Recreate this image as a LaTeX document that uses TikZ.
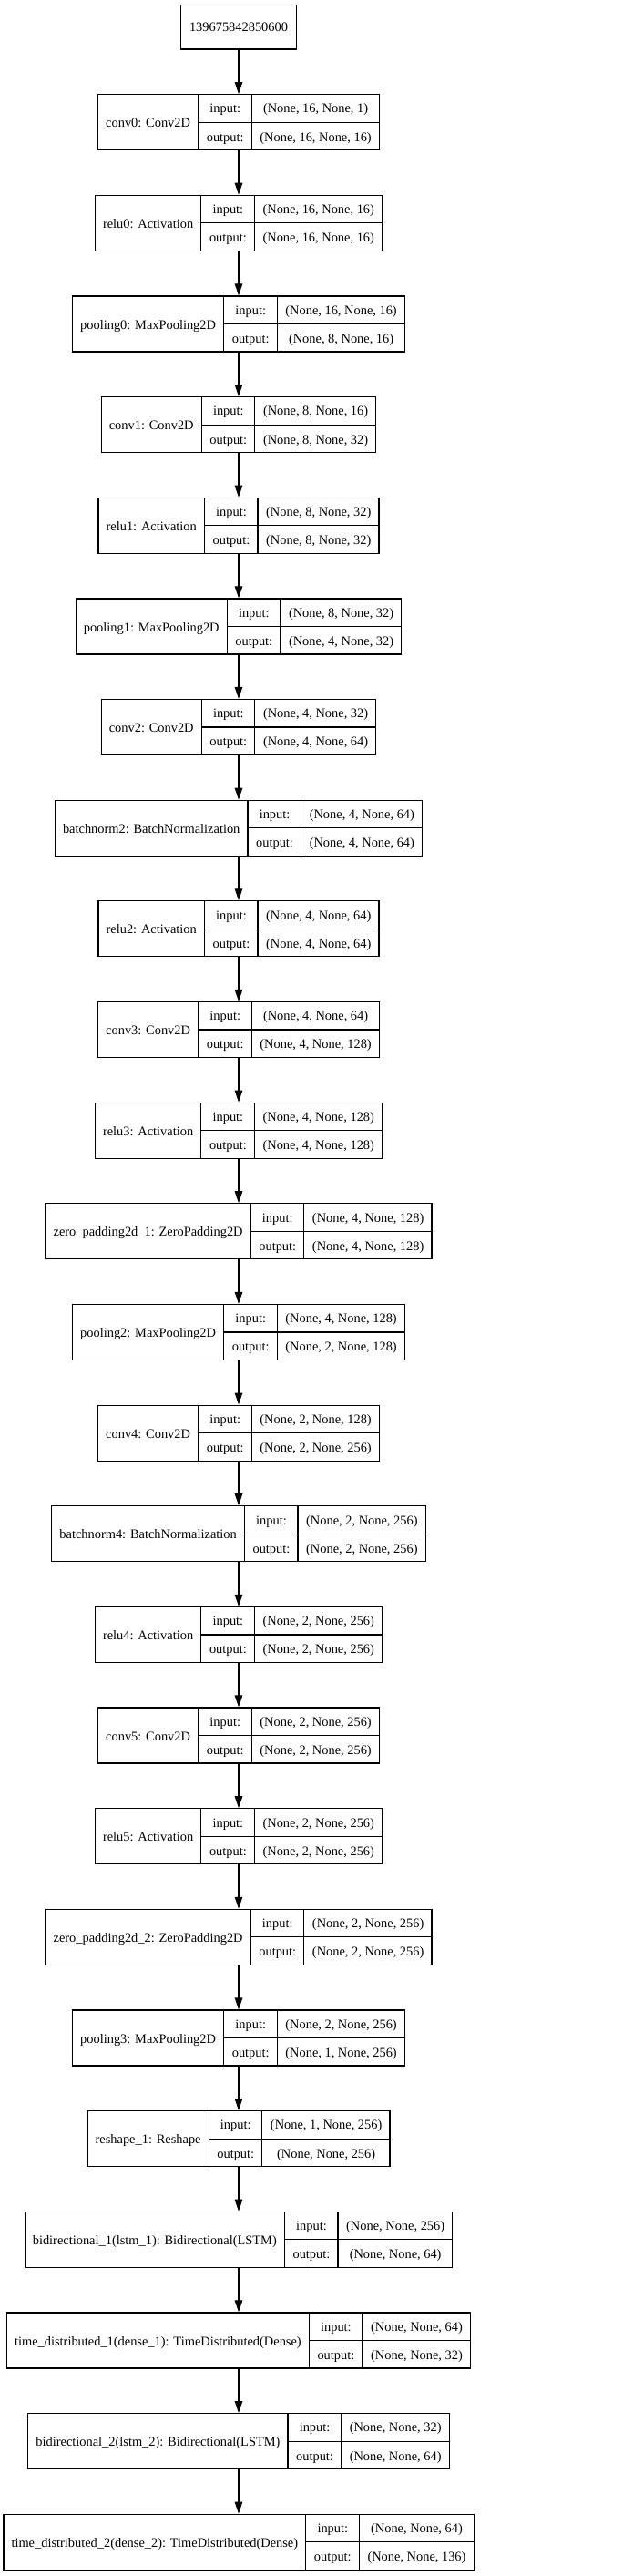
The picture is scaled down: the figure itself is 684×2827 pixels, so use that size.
\documentclass[tikz,border=0pt]{standalone}
\usepackage{fontspec}
\setmainfont{Liberation Serif}
\usepackage{tikz}
\usetikzlibrary{positioning, arrows.meta}

\newlength{\cpad}
\setlength{\cpad}{8.6pt}
\setlength{\arrayrulewidth}{1.2pt}
\renewcommand{\arraystretch}{0}
\newcommand{\rs}{\rule[-9.6pt]{0pt}{29.9pt}}
\newcommand{\layer}[3]{%
  \begin{tabular}{@{\hspace{\cpad}}c@{\hspace{\cpad}}|@{}c@{}|@{}c@{}}
    \raisebox{-2pt}{#1} &
    \begin{tabular}{@{\hspace{\cpad}}c@{\hspace{\cpad}}}\rs input:\\\hline\rs output:\end{tabular} &
    \begin{tabular}{@{\hspace{\cpad}}c@{\hspace{\cpad}}}\rs #2\\\hline\rs #3\end{tabular}
  \end{tabular}}

\begin{document}
\begin{tikzpicture}[node distance=48.45pt]

\tikzstyle{idbox} = [rectangle, draw=black, line width=1.2pt, minimum width=127pt, minimum height=48.3pt, inner sep=0pt, font=\fontsize{14.4}{17}\selectfont]
\tikzstyle{layerbox} = [rectangle, draw=black, line width=1.2pt, inner sep=0pt, font=\fontsize{14.4}{17}\selectfont]
\tikzstyle{arrow} = [line width=1.2pt, -{Triangle[length=13pt, width=8.5pt]}]

\useasboundingbox (0,0) rectangle (684pt,-2827pt);

\node (input) [idbox] at (262pt,-29.85pt) {139675842850600};
\node (conv0) [layerbox, below=of input] {\layer{conv0: Conv2D}{(None, 16, None, 1)}{(None, 16, None, 16)}};
\node (relu0) [layerbox, below=of conv0] {\layer{relu0: Activation}{(None, 16, None, 16)}{(None, 16, None, 16)}};
\node (pooling0) [layerbox, below=of relu0] {\layer{pooling0: MaxPooling2D}{(None, 16, None, 16)}{(None, 8, None, 16)}};
\node (conv1) [layerbox, below=of pooling0] {\layer{conv1: Conv2D}{(None, 8, None, 16)}{(None, 8, None, 32)}};
\node (relu1) [layerbox, below=of conv1] {\layer{relu1: Activation}{(None, 8, None, 32)}{(None, 8, None, 32)}};
\node (pooling1) [layerbox, below=of relu1] {\layer{pooling1: MaxPooling2D}{(None, 8, None, 32)}{(None, 4, None, 32)}};
\node (conv2) [layerbox, below=of pooling1] {\layer{conv2: Conv2D}{(None, 4, None, 32)}{(None, 4, None, 64)}};
\node (batchnorm2) [layerbox, below=of conv2] {\layer{batchnorm2: BatchNormalization}{(None, 4, None, 64)}{(None, 4, None, 64)}};
\node (relu2) [layerbox, below=of batchnorm2] {\layer{relu2: Activation}{(None, 4, None, 64)}{(None, 4, None, 64)}};
\node (conv3) [layerbox, below=of relu2] {\layer{conv3: Conv2D}{(None, 4, None, 64)}{(None, 4, None, 128)}};
\node (relu3) [layerbox, below=of conv3] {\layer{relu3: Activation}{(None, 4, None, 128)}{(None, 4, None, 128)}};
\node (zeropad1) [layerbox, below=of relu3] {\layer{zero\_padding2d\_1: ZeroPadding2D}{(None, 4, None, 128)}{(None, 4, None, 128)}};
\node (pooling2) [layerbox, below=of zeropad1] {\layer{pooling2: MaxPooling2D}{(None, 4, None, 128)}{(None, 2, None, 128)}};
\node (conv4) [layerbox, below=of pooling2] {\layer{conv4: Conv2D}{(None, 2, None, 128)}{(None, 2, None, 256)}};
\node (batchnorm4) [layerbox, below=of conv4] {\layer{batchnorm4: BatchNormalization}{(None, 2, None, 256)}{(None, 2, None, 256)}};
\node (relu4) [layerbox, below=of batchnorm4] {\layer{relu4: Activation}{(None, 2, None, 256)}{(None, 2, None, 256)}};
\node (conv5) [layerbox, below=of relu4] {\layer{conv5: Conv2D}{(None, 2, None, 256)}{(None, 2, None, 256)}};
\node (relu5) [layerbox, below=of conv5] {\layer{relu5: Activation}{(None, 2, None, 256)}{(None, 2, None, 256)}};
\node (zeropad2) [layerbox, below=of relu5] {\layer{zero\_padding2d\_2: ZeroPadding2D}{(None, 2, None, 256)}{(None, 2, None, 256)}};
\node (pooling3) [layerbox, below=of zeropad2] {\layer{pooling3: MaxPooling2D}{(None, 2, None, 256)}{(None, 1, None, 256)}};
\node (reshape1) [layerbox, below=of pooling3] {\layer{reshape\_1: Reshape}{(None, 1, None, 256)}{(None, None, 256)}};
\node (bilstm1) [layerbox, below=of reshape1] {\layer{bidirectional\_1(lstm\_1): Bidirectional(LSTM)}{(None, None, 256)}{(None, None, 64)}};
\node (dense1) [layerbox, below=of bilstm1] {\layer{time\_distributed\_1(dense\_1): TimeDistributed(Dense)}{(None, None, 64)}{(None, None, 32)}};
\node (bilstm2) [layerbox, below=of dense1] {\layer{bidirectional\_2(lstm\_2): Bidirectional(LSTM)}{(None, None, 32)}{(None, None, 64)}};
\node (dense2) [layerbox, below=of bilstm2] {\layer{time\_distributed\_2(dense\_2): TimeDistributed(Dense)}{(None, None, 64)}{(None, None, 136)}};

\draw [arrow] (input) -- (conv0);
\draw [arrow] (conv0) -- (relu0);
\draw [arrow] (relu0) -- (pooling0);
\draw [arrow] (pooling0) -- (conv1);
\draw [arrow] (conv1) -- (relu1);
\draw [arrow] (relu1) -- (pooling1);
\draw [arrow] (pooling1) -- (conv2);
\draw [arrow] (conv2) -- (batchnorm2);
\draw [arrow] (batchnorm2) -- (relu2);
\draw [arrow] (relu2) -- (conv3);
\draw [arrow] (conv3) -- (relu3);
\draw [arrow] (relu3) -- (zeropad1);
\draw [arrow] (zeropad1) -- (pooling2);
\draw [arrow] (pooling2) -- (conv4);
\draw [arrow] (conv4) -- (batchnorm4);
\draw [arrow] (batchnorm4) -- (relu4);
\draw [arrow] (relu4) -- (conv5);
\draw [arrow] (conv5) -- (relu5);
\draw [arrow] (relu5) -- (zeropad2);
\draw [arrow] (zeropad2) -- (pooling3);
\draw [arrow] (pooling3) -- (reshape1);
\draw [arrow] (reshape1) -- (bilstm1);
\draw [arrow] (bilstm1) -- (dense1);
\draw [arrow] (dense1) -- (bilstm2);
\draw [arrow] (bilstm2) -- (dense2);

\end{tikzpicture}
\end{document}
